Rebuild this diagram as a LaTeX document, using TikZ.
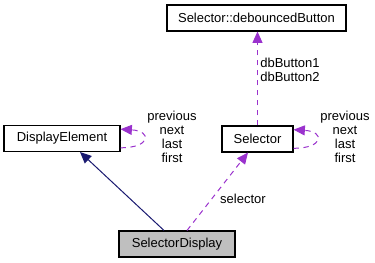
\documentclass[tikz,border=0pt]{standalone}
\usepackage{fontspec}
\setmainfont{Liberation Sans}
\usepackage{tikz}
\usetikzlibrary{arrows.meta}

\definecolor{edgeblue}{HTML}{191970}
\definecolor{edgepurple}{HTML}{9A32CD}
\definecolor{boxgray}{HTML}{BFBFBF}

\tikzset{
	classbox/.style={draw=black, line width=0.8pt, inner sep=0pt, minimum height=19.5pt, font=\fontsize{9.75}{11.7}\selectfont},
	edgelabel/.style={inner sep=0pt, align=center, font=\fontsize{9.75}{10.5}\selectfont},
	inherit/.style={draw=edgeblue, line width=0.75pt, -{Triangle[length=8.5pt,width=7.5pt]}},
	usage/.style={draw=edgepurple, line width=0.75pt, dash pattern=on 4pt off 3.5pt, -{Triangle[length=8.5pt,width=7.5pt]}}
}

\begin{document}
\begin{tikzpicture}[x=0.75pt, y=-0.75pt]
			%%%%% START %%%%%
			\useasboundingbox (0, 0) rectangle (375, 263);
			
			\node[classbox, minimum width=134.25pt] (btn) at (256.5, 18) {Selector::debouncedButton};
			\node[classbox, minimum width=53.25pt] (sel) at (257.5, 139) {Selector};
			\node[classbox, minimum width=87pt] (disp) at (62, 138.5) {DisplayElement};
			\node[classbox, minimum width=87pt, fill=boxgray] (selDisp) at (177, 244) {SelectorDisplay};
			
			\draw[inherit] ([xshift=-9.75pt]selDisp.north) -- ([xshift=13.5pt]disp.south);
			\draw[usage] ([xshift=7.5pt]selDisp.north) -- ([xshift=-7.125pt]sel.south);
			\draw[usage] (sel.north) -- (sel.north |- btn.south);
			
			\draw[usage] ([yshift=-7pt]disp.east) .. controls +(30, 0) and +(32, 2) .. ([yshift=7pt]disp.east);
			\draw[usage] ([yshift=-7pt]sel.east) .. controls +(30, 0) and +(32, 2) .. ([yshift=7pt]sel.east);
			
			\node[edgelabel] (dispLinks) at (172, 137) {previous\\next\\last\\first};
			\node[edgelabel] (selLinks) at (345, 137) {previous\\next\\last\\first};
			\node[edgelabel, align=left] (btnLinks) at (290, 69.5) {dbButton1\\dbButton2};
			\node[edgelabel] (selLabel) at (243, 199) {selector};
			
			%%%%% END %%%%%
\end{tikzpicture}
\end{document}
